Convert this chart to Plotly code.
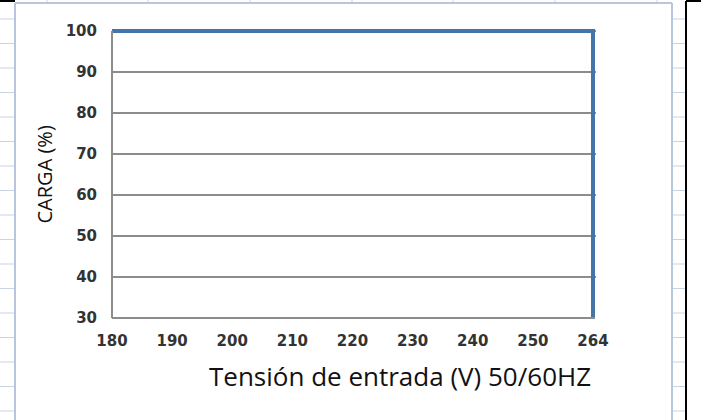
import plotly.graph_objects as go

# Data
voltage_labels = ["180", "190", "200", "210", "220", "230", "240", "250", "264", "264"]
load_pct = [100, 100, 100, 100, 100, 100, 100, 100, 100, 30]
y_ticks = [30, 40, 50, 60, 70, 80, 90, 100]
x_title = "Tensión de entrada (V) 50/60HZ"
y_title = "CARGA (%)"

W, H = 701, 420
# plot area in pixels (slightly larger than the data box so the thick line is not clipped)
L, R, T, B = 112, 596, 27, 318
X_MAX = 8.05     # category 8 ("264") lands at ~593 px
Y_MAX = 100.98   # value 100 lands at ~31 px

fig = go.Figure()
fig.add_trace(go.Scatter(
    x=voltage_labels, y=load_pct, mode="lines",
    line=dict(color="#4574a8", width=4),
    cliponaxis=False,
    hoverinfo="skip", showlegend=False,
))

# pixel -> paper helpers
def px(x):
    return (x - L) / (R - L)

def py(y):
    return (B - y) / (B - T)

shapes = []
grid_col = "#c9d3e3"
# spreadsheet row ticks outside the chart frame
y = 19.0
while y < H:
    shapes.append(dict(type="line", xref="paper", yref="paper",
                       x0=px(0), x1=px(15), y0=py(y), y1=py(y),
                       line=dict(color=grid_col, width=1), layer="below"))
    shapes.append(dict(type="line", xref="paper", yref="paper",
                       x0=px(672), x1=px(686), y0=py(y), y1=py(y),
                       line=dict(color=grid_col, width=1), layer="below"))
    y += 24.5
# column ticks above chart frame
for cx in [47, 148, 250, 352, 453, 555, 657]:
    shapes.append(dict(type="line", xref="paper", yref="paper",
                       x0=px(cx), x1=px(cx), y0=py(0), y1=py(3),
                       line=dict(color=grid_col, width=1), layer="below"))
# chart frame
frame_col = "#b7c6dd"
shapes.append(dict(type="line", xref="paper", yref="paper",
                   x0=px(15), x1=px(15), y0=py(3), y1=py(H),
                   line=dict(color=frame_col, width=2), layer="below"))
shapes.append(dict(type="line", xref="paper", yref="paper",
                   x0=px(672), x1=px(672), y0=py(3), y1=py(H),
                   line=dict(color=frame_col, width=2), layer="below"))
shapes.append(dict(type="line", xref="paper", yref="paper",
                   x0=px(15), x1=px(672), y0=py(3), y1=py(3),
                   line=dict(color=frame_col, width=2), layer="below"))
# black crop borders
shapes.append(dict(type="line", xref="paper", yref="paper",
                   x0=px(0), x1=px(15), y0=py(1), y1=py(1),
                   line=dict(color="black", width=2)))
shapes.append(dict(type="line", xref="paper", yref="paper",
                   x0=px(686), x1=px(701), y0=py(1), y1=py(1),
                   line=dict(color="black", width=2)))
shapes.append(dict(type="line", xref="paper", yref="paper",
                   x0=px(686), x1=px(686), y0=py(1), y1=py(H),
                   line=dict(color="black", width=2)))
# axis lines limited to the data box (left axis and bottom axis)
shapes.append(dict(type="line", xref="paper", yref="paper",
                   x0=0, x1=0, y0=0, y1=py(31), line=dict(color="#8c8c8c", width=2)))
shapes.append(dict(type="line", xref="paper", yref="paper",
                   x0=0, x1=px(595), y0=0, y1=0, line=dict(color="#8c8c8c", width=2)))

tick_font = dict(family="DejaVu Sans", size=15, color="#333333", weight="bold")

fig.update_layout(
    width=W, height=H,
    margin=dict(l=L, r=W - R, t=T, b=H - B, pad=0),
    paper_bgcolor="white", plot_bgcolor="white",
    shapes=shapes,
    xaxis=dict(
        type="category", range=[0, X_MAX],
        showgrid=False, showline=False,
        ticks="", ticklabelstandoff=12,
        tickfont=tick_font,
        fixedrange=True,
    ),
    yaxis=dict(
        range=[30, Y_MAX], tickvals=y_ticks,
        showgrid=True, gridcolor="#8c8c8c", gridwidth=1.5,
        showline=False,
        zeroline=False, ticks="", ticklabelstandoff=14,
        tickfont=tick_font,
        fixedrange=True,
    ),
    annotations=[
        dict(text=x_title, xref="paper", yref="paper", x=px(400), y=0,
             xanchor="center", yanchor="middle", yshift=-58, showarrow=False,
             font=dict(family="Open Sans", size=26, color="#111111")),
        dict(text=y_title, xref="paper", yref="paper", x=0, y=0.5,
             xanchor="center", yanchor="middle", xshift=-68, yshift=-2,
             textangle=-90, showarrow=False,
             font=dict(family="Open Sans", size=20, color="#111111")),
    ],
)

fig.write_html("out.html", config={"displayModeBar": False},
               post_script="document.body.style.margin='0';")
